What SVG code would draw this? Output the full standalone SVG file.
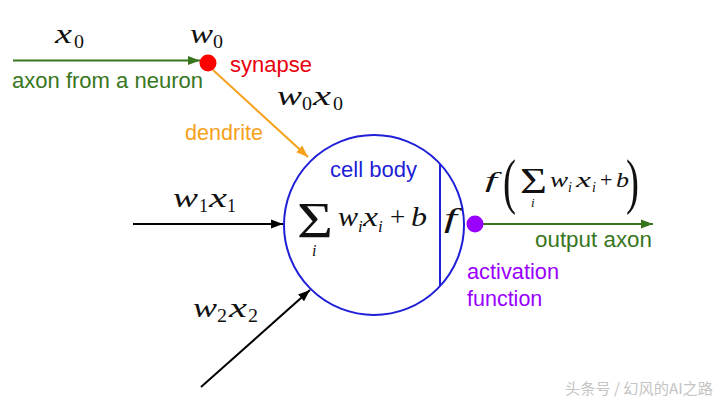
<svg xmlns="http://www.w3.org/2000/svg" width="723" height="400" viewBox="0 0 723 400">
<defs>
<style>
.lbl{font-family:"Liberation Sans",Arial,sans-serif;font-size:21.5px}
.m{font-family:"Liberation Serif","Times New Roman",serif;font-style:italic;font-size:27px;fill:#111}
.s{font-family:"Liberation Serif","Times New Roman",serif;font-size:18px;fill:#111}
.si{font-family:"Liberation Serif","Times New Roman",serif;font-style:italic;font-size:17px;fill:#111}
.r{font-family:"Liberation Serif","Times New Roman",serif;font-size:27px;fill:#111}
.green{fill:#38761d}
.ln{fill:none;stroke-width:2}
</style>
<marker id="ag" markerUnits="userSpaceOnUse" markerWidth="13" markerHeight="10" refX="12" refY="5" orient="auto"><path d="M0,0.5 L12,5 L0,9.5 z" fill="#38761d"/></marker>
<marker id="ao" markerUnits="userSpaceOnUse" markerWidth="13" markerHeight="10" refX="12" refY="5" orient="auto"><path d="M0,0.5 L12,5 L0,9.5 z" fill="#f5a11c"/></marker>
<marker id="ak" markerUnits="userSpaceOnUse" markerWidth="13" markerHeight="10" refX="12" refY="5" orient="auto"><path d="M0,0.5 L12,5 L0,9.5 z" fill="#000"/></marker>
</defs>
<rect width="723" height="400" fill="#fff"/>

<g id="connectors">
<line x1="13" y1="60.5" x2="200" y2="60.5" class="ln" stroke="#38761d" marker-end="url(#ag)"/>
<line x1="213" y1="70" x2="308" y2="157" class="ln" stroke="#f5a11c" marker-end="url(#ao)"/>
<line x1="133" y1="224" x2="283" y2="224" class="ln" stroke="#000" marker-end="url(#ak)"/>
<line x1="201" y1="387" x2="310" y2="290" class="ln" stroke="#000" marker-end="url(#ak)"/>
<line x1="483" y1="224" x2="653" y2="224" class="ln" stroke="#38761d" marker-end="url(#ag)"/>
</g>

<g id="input-x0">
<text class="m" x="55" y="43" textLength="17" lengthAdjust="spacingAndGlyphs">x</text>
<text class="s" x="74" y="48" textLength="10" lengthAdjust="spacingAndGlyphs">0</text>
<text class="lbl green" x="12" y="88" textLength="191" lengthAdjust="spacingAndGlyphs">axon from a neuron</text>
</g>

<g id="synapse">
<circle cx="208" cy="63" r="8.5" fill="#ff0000"/>
<text class="m" x="190" y="43" textLength="23" lengthAdjust="spacingAndGlyphs">w</text>
<text class="s" x="213" y="48" textLength="10" lengthAdjust="spacingAndGlyphs">0</text>
<text class="lbl" x="230" y="72" fill="#e8000d" textLength="82" lengthAdjust="spacingAndGlyphs">synapse</text>
</g>

<g id="dendrite">
<text class="m" x="277" y="105" textLength="25" lengthAdjust="spacingAndGlyphs">w</text>
<text class="s" x="302" y="110" textLength="10" lengthAdjust="spacingAndGlyphs">0</text>
<text class="m" x="313" y="105" textLength="18" lengthAdjust="spacingAndGlyphs">x</text>
<text class="s" x="333" y="110" textLength="10" lengthAdjust="spacingAndGlyphs">0</text>
<text class="lbl" x="185" y="140" fill="#f5a11c" textLength="78" lengthAdjust="spacingAndGlyphs">dendrite</text>
</g>

<g id="input-w1x1">
<text class="m" x="173" y="207" textLength="25" lengthAdjust="spacingAndGlyphs">w</text>
<text class="s" x="199" y="212" textLength="9" lengthAdjust="spacingAndGlyphs">1</text>
<text class="m" x="209" y="207" textLength="18" lengthAdjust="spacingAndGlyphs">x</text>
<text class="s" x="227" y="212" textLength="9" lengthAdjust="spacingAndGlyphs">1</text>
</g>

<g id="input-w2x2">
<text class="m" x="193" y="317" textLength="24" lengthAdjust="spacingAndGlyphs">w</text>
<text class="s" x="217" y="322" textLength="10" lengthAdjust="spacingAndGlyphs">2</text>
<text class="m" x="229" y="317" textLength="18" lengthAdjust="spacingAndGlyphs">x</text>
<text class="s" x="248" y="322" textLength="10" lengthAdjust="spacingAndGlyphs">2</text>
</g>

<g id="cell-body">
<circle cx="374" cy="225" r="90" fill="none" stroke="#1f1fd8" stroke-width="2"/>
<line x1="440" y1="164" x2="440" y2="286" stroke="#1f1fd8" stroke-width="2"/>
<text class="lbl" x="330" y="177" fill="#1f1fd8" textLength="87" lengthAdjust="spacingAndGlyphs">cell body</text>
<text class="r" x="297" y="237" style="font-size:51px" textLength="36" lengthAdjust="spacingAndGlyphs">Σ</text>
<text class="si" x="312" y="256" style="font-size:16px">i</text>
<text class="m" x="338" y="226" textLength="20" lengthAdjust="spacingAndGlyphs">w</text>
<text class="si" x="358" y="232">i</text>
<text class="m" x="363" y="226" textLength="15" lengthAdjust="spacingAndGlyphs">x</text>
<text class="si" x="378" y="232">i</text>
<text class="r" x="390" y="226">+</text>
<text class="m" x="411" y="226" textLength="16" lengthAdjust="spacingAndGlyphs">b</text>
<text class="m" x="444" y="227" textLength="13" lengthAdjust="spacingAndGlyphs">f</text>
</g>

<g id="activation">
<circle cx="475" cy="224" r="8.5" fill="#9900ff"/>
<text class="m" x="485" y="187" style="font-size:22px" textLength="12" lengthAdjust="spacingAndGlyphs">f</text>
<text class="r" x="503" y="202" style="font-size:62px" textLength="13" lengthAdjust="spacingAndGlyphs">(</text>
<text class="r" x="520" y="193" style="font-size:35px" textLength="27" lengthAdjust="spacingAndGlyphs">Σ</text>
<text class="si" x="531" y="207" style="font-size:13px">i</text>
<text class="m" x="550" y="187" style="font-size:22px" textLength="18" lengthAdjust="spacingAndGlyphs">w</text>
<text class="si" x="568" y="192" style="font-size:14px">i</text>
<text class="m" x="576" y="187" style="font-size:22px" textLength="15" lengthAdjust="spacingAndGlyphs">x</text>
<text class="si" x="592" y="192" style="font-size:14px">i</text>
<text class="r" x="600" y="187" style="font-size:22px">+</text>
<text class="m" x="616" y="187" style="font-size:22px" textLength="13" lengthAdjust="spacingAndGlyphs">b</text>
<text class="r" x="626" y="202" style="font-size:62px" textLength="13" lengthAdjust="spacingAndGlyphs">)</text>
<text class="lbl green" x="535" y="247" textLength="117" lengthAdjust="spacingAndGlyphs">output axon</text>
<text class="lbl" x="467" y="279" fill="#9900ff" textLength="92" lengthAdjust="spacingAndGlyphs">activation</text>
<text class="lbl" x="467" y="306" fill="#9900ff">function</text>
</g>

<text x="565" y="394" font-family="'Noto Sans CJK SC','Noto Sans',sans-serif" font-size="15" fill="#c4c4c4" textLength="148" lengthAdjust="spacingAndGlyphs">头条号 / 幻风的AI之路</text>
</svg>
